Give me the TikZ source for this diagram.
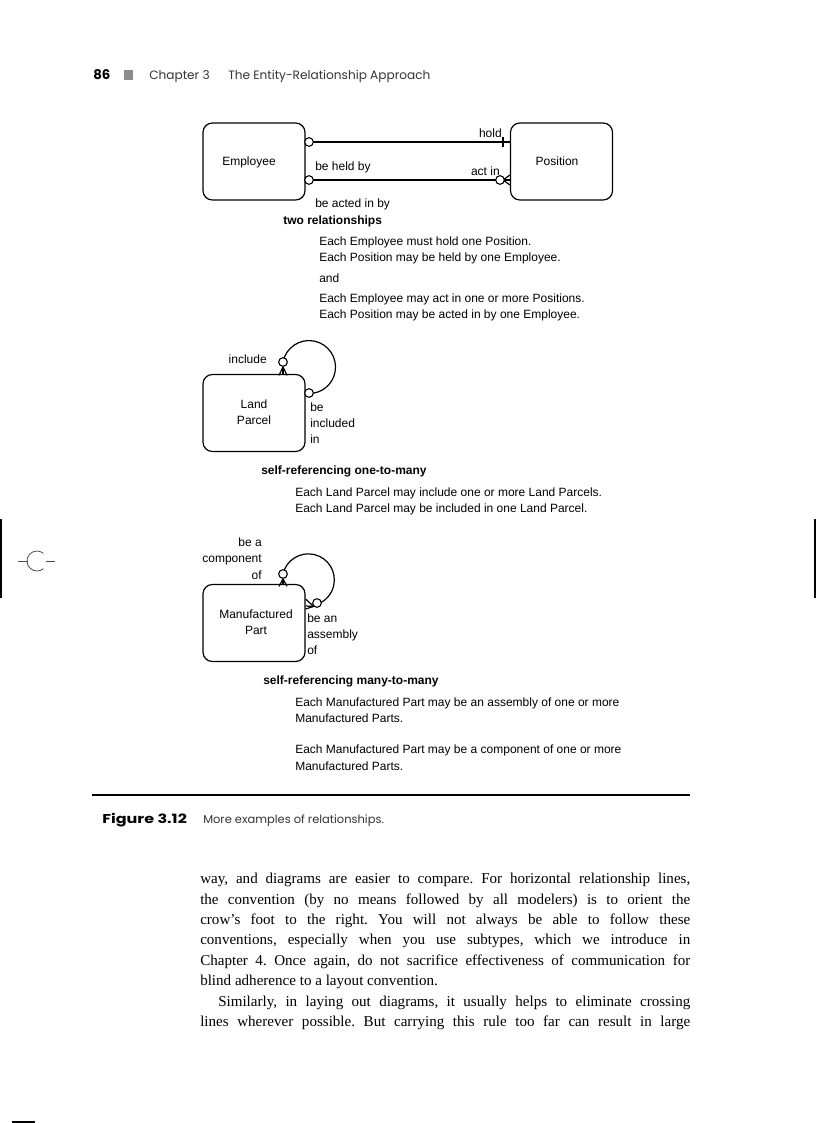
\documentclass[tikz,border=0pt]{standalone}
\usepackage{fontspec}
\setmainfont{Liberation Serif}
\newfontfamily\dsans{Liberation Sans}
\newfontfamily\hsans{Poppins}
\begin{document}
\begin{tikzpicture}[x=0.75pt,y=-0.75pt,
  ent/.style={draw, rounded corners=7pt, line width=0.9pt, minimum width=76.5pt, minimum height=57.75pt, inner sep=0pt},
  optc/.style={circle, draw, fill=white, minimum size=6.5pt, inner sep=0pt, line width=0.8pt},
  rel/.style={line width=0.9pt},
  lbl/.style={font=\dsans\fontsize{9pt}{11pt}\selectfont, inner sep=0pt},
  bl/.style={lbl, anchor=base west},
  br/.style={lbl, anchor=base east},
  bc/.style={lbl, anchor=base},
  hd/.style={font=\hsans\fontsize{9.1pt}{11pt}\selectfont, inner sep=0pt, anchor=base west, text=black!80}
]
\useasboundingbox (0,0) rectangle (816,1123);
% header
\node[hd, font=\hsans\bfseries\fontsize{10pt}{12pt}\selectfont, text=black] (pg) at (93,80) {86};
\node[draw=none, fill=black!45, minimum size=7pt, inner sep=0pt] (sq) at (128.5,75) {};
\node[hd] (ch) at (149,80) {Chapter 3};
\node[hd] (ti) at (228,80) {The Entity-Relationship Approach};

% two relationships
\node[ent] (emp) at (254,161.5) {};
\node[lbl] (empt) at (249,162) {Employee};
\node[ent] (pos) at (561.5,161.5) {};
\node[lbl] (post) at (557,161) {Position};
\draw[rel] (emp.east |- 0,142) -- (pos.west |- 0,142);
\draw[rel] (emp.east |- 0,180) -- (pos.west |- 0,180);
\draw[rel] (503,137) -- (503,147);
\draw[rel] (503,180) -- (pos.west |- 0,175);
\draw[rel] (503,180) -- (pos.west |- 0,185);
\node[optc] (c1) at (309,142) {};
\node[optc] (c2) at (309,180) {};
\node[optc] (c3) at (500,180) {};
\node[br] (hold) at (502,138) {hold};
\node[br] (actin) at (500,176) {act in};
\node[bl] (heldby) at (315,171) {be held by};
\node[bl] (actedby) at (315,208) {be acted in by};
\node[bl, font=\dsans\bfseries\fontsize{9pt}{11pt}\selectfont] (two) at (283,224) {two relationships};
\node[bl] (t1) at (319,245) {Each Employee must hold one Position.};
\node[bl] (t2) at (319,262) {Each Position may be held by one Employee.};
\node[bl] (t3) at (319,282) {and};
\node[bl] (t4) at (319,302) {Each Employee may act in one or more Positions.};
\node[bl] (t5) at (319,318) {Each Position may be acted in by one Employee.};

% land parcel
\node[ent] (lp) at (254,413) {};
\node[bc] (lpa) at (254,408) {Land};
\node[bc] (lpb) at (254,424) {Parcel};
\draw[rel] (283,362) arc[start angle=191, end angle=450, radius=26.5];
\node[optc] (lc1) at (283,362) {};
\node[optc] (lc2) at (309,393) {};
\draw[rel] (lc1.south) -- (lp.north -| lc1);
\draw[rel] (lc1.south) -- ++(-4,8.5);
\draw[rel] (lc1.south) -- ++(4,8.5);
\node[br] (incl) at (267,363) {include};
\node[bl] (bi1) at (310,411) {be};
\node[bl] (bi2) at (310,427) {included};
\node[bl] (bi3) at (310,443) {in};
\node[bl, font=\dsans\bfseries\fontsize{9pt}{11pt}\selectfont] (s1) at (261,474) {self-referencing one-to-many};
\node[bl] (u1) at (295,496) {Each Land Parcel may include one or more Land Parcels.};
\node[bl] (u2) at (295,512) {Each Land Parcel may be included in one Land Parcel.};

% manufactured part
\node[ent] (mp) at (254,623) {};
\node[bc] (mpa) at (256,618) {Manufactured};
\node[bc] (mpb) at (256,634) {Part};
\draw[rel] (283,574) arc[start angle=193, end angle=431, radius=26];
\node[optc] (mc1) at (283,574) {};
\node[optc] (mc2) at (317,603) {};
\draw[rel] (mc1.south) -- (mp.north -| mc1);
\draw[rel] (mc1.south) -- ++(-4,7.5);
\draw[rel] (mc1.south) -- ++(4,7.5);
\draw[rel] (mc2.south west) -- (mp.east |- 0,606);
\draw[rel] (mc2.south west) -- (mp.east |- 0,599);
\draw[rel] (mc2.south west) -- (mp.east |- 0,609);
\node[br] (bc1) at (262,546) {be a};
\node[br] (bc2) at (262,562) {component};
\node[br] (bc3) at (262,579) {of};
\node[bl] (ba1) at (307,622) {be an};
\node[bl] (ba2) at (307,638) {assembly};
\node[bl] (ba3) at (307,654) {of};
\node[bl, font=\dsans\bfseries\fontsize{9pt}{11pt}\selectfont] (s2) at (263,684) {self-referencing many-to-many};
\node[bl] (v1) at (295,706) {Each Manufactured Part may be an assembly of one or more};
\node[bl] (v2) at (295,722) {Manufactured Parts.};
\node[bl] (v3) at (295,753) {Each Manufactured Part may be a component of one or more};
\node[bl] (v4) at (295,770) {Manufactured Parts.};

% rule and caption
\draw[line width=1.4pt] (92,795) -- (690,795);
\node[hd, font=\hsans\bfseries\fontsize{9.6pt}{12pt}\selectfont, text=black, xscale=1.25] (fig) at (102,823) {Figure 3.12};
\node[hd, font=\hsans\fontsize{8.6pt}{11pt}\selectfont] (cap) at (203,823) {More examples of relationships.};

% body text
\node[anchor=north west, inner sep=0pt, text width=367.5pt, align=justify,
  font=\frenchspacing\fontsize{11.3pt}{15.3pt}\selectfont] (body) at (200,873) {%
way, and diagrams are easier to compare. For horizontal relationship lines, \linebreak
the convention (by no means followed by all modelers) is to orient the \linebreak
crow’s foot to the right. You will not always be able to follow these \linebreak
conventions, especially when you use subtypes, which we introduce in \linebreak
Chapter 4. Once again, do not sacrifice effectiveness of communication for \linebreak
blind adherence to a layout convention.\par
{\hspace*{13.5pt}\parfillskip=0pt Similarly, in laying out diagrams, it usually helps to eliminate crossing \linebreak
lines wherever possible. But carrying this rule too far can result in large\par}};

% registration marks
\draw[line width=1.5pt] (1,519) -- (1,598);
\draw[line width=1.5pt] (815,519) -- (815,598);
\draw[line width=0.6pt, black!70] (18,561) -- (28,561);
\draw[line width=0.6pt, black!70] (46,561) -- (55,561);
\draw[line width=0.6pt, black!70] (37,561) ++(-50:10) arc[start angle=-50, end angle=-310, radius=10];
\draw[line width=1.5pt] (12,1122) -- (35,1122);
\end{tikzpicture}
\end{document}
